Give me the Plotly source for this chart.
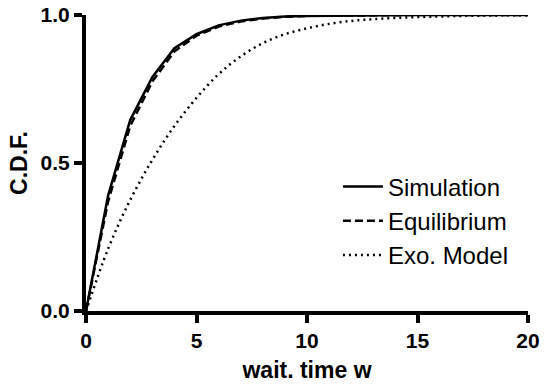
import plotly.graph_objects as go

wait_time = [0, 1, 2, 3, 4, 5, 6, 7, 8, 9, 10, 11, 12, 13, 14, 15, 16, 17, 18, 19, 20]
simulation = [0, 0.39, 0.645, 0.79, 0.888, 0.935, 0.965, 0.981, 0.99, 0.995, 0.997, 0.998, 0.999, 1.0, 1.0, 1.0, 1.0, 1.0, 1.0, 1.0, 1.0]
equilibrium = [0, 0.37, 0.625, 0.775, 0.877, 0.93, 0.961, 0.978, 0.988, 0.994, 0.997, 0.998, 0.999, 1.0, 1.0, 1.0, 1.0, 1.0, 1.0, 1.0, 1.0]
exo_model = [0, 0.21, 0.375, 0.51, 0.625, 0.72, 0.80, 0.86, 0.905, 0.935, 0.955, 0.97, 0.98, 0.986, 0.99, 0.993, 0.995, 0.997, 0.998, 0.999, 0.999]

x_ticks = [0, 5, 10, 15, 20]
y_ticks = [0.0, 0.5, 1.0]
y_tick_labels = ["0.0", "0.5", "1.0"]

FONT = "Liberation Sans, Arial, sans-serif"

fig = go.Figure()
fig.add_trace(go.Scatter(x=wait_time, y=simulation, mode="lines", name="Simulation",
                         legendgroup="a", line=dict(color="black", width=2.5)))
fig.add_trace(go.Scatter(x=wait_time, y=equilibrium, mode="lines", name="Equilibrium",
                         legendgroup="b", line=dict(color="black", width=2.5, dash="8px,4px")))
fig.add_trace(go.Scatter(x=wait_time, y=exo_model, mode="lines", name="Exo. Model",
                         legendgroup="c", line=dict(color="black", width=2.5, dash="2px,4px", shape="spline")))

axis_common = dict(
    showline=True, linecolor="black", linewidth=4,
    ticks="outside", ticklen=8, tickwidth=4, tickcolor="black",
    showgrid=False, zeroline=False,
    tickfont=dict(family=FONT, size=21, color="black", weight="bold"),
)

fig.update_xaxes(range=[0, 20], tickvals=x_ticks,
                 title=dict(text="wait. time w", standoff=12,
                            font=dict(family=FONT, size=23, color="black", weight="bold")),
                 **axis_common)
fig.update_yaxes(range=[0, 1], tickvals=y_ticks, ticktext=y_tick_labels,
                 title=dict(text="C.D.F.", standoff=8,
                            font=dict(family=FONT, size=23, color="black", weight="bold")),
                 **axis_common)

fig.update_layout(
    width=547, height=386,
    margin=dict(l=86, r=19, t=15, b=75, autoexpand=False),
    plot_bgcolor="white", paper_bgcolor="white",
    legend=dict(x=0.57, y=0.495, xanchor="left", yanchor="top",
                font=dict(family=FONT, size=24, color="black"),
                bgcolor="rgba(0,0,0,0)", tracegroupgap=0, itemwidth=40),
    showlegend=True,
)

fig.write_html("out.html", config={"displayModeBar": False},
               post_script="document.body.style.margin='0';document.body.style.overflow='hidden';")
